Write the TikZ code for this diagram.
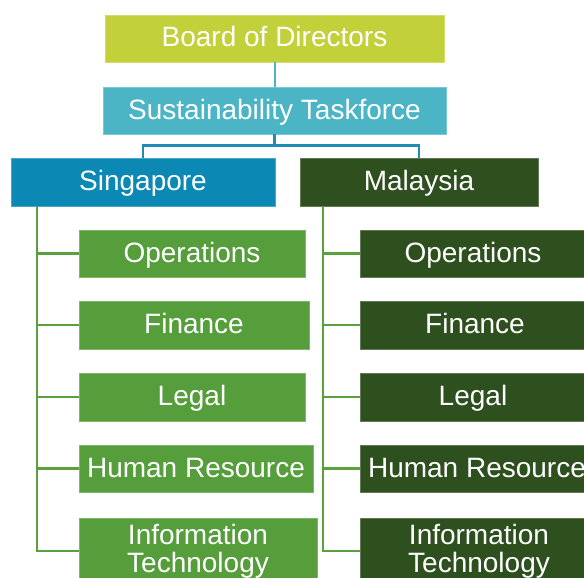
\documentclass[tikz,border=0pt]{standalone}
\usepackage{fontspec}
\setmainfont{Liberation Sans}
\definecolor{board}{HTML}{C2D03A}
\definecolor{task}{HTML}{4BB5C6}
\definecolor{sing}{HTML}{0B88B3}
\definecolor{malay}{HTML}{2E4F1E}
\definecolor{leaf}{HTML}{559E3B}
\definecolor{branch}{HTML}{5AA03C}
\definecolor{bracketc}{HTML}{1E8DB5}
\begin{document}
\begin{tikzpicture}[x=1pt,y=-1pt,
  box/.style={rectangle, inner sep=0pt, fill=#1, draw=#1!75!white, line width=0.6pt,
    text=white, align=center, font=\fontsize{28}{28}\selectfont},
  oneline/.style={text height=20pt, text depth=3pt},
  tline/.style={draw=task, line width=2pt},
  bline/.style={draw=bracketc, line width=2.5pt},
  gline/.style={draw=branch, line width=2.3pt}]
\useasboundingbox (0,0) rectangle (584,578);

% top of the hierarchy
\node[box=board, oneline, minimum width=339pt, minimum height=47pt] (bod) at (274.5,38.5) {Board of Directors};
\node[box=task, oneline, minimum width=343pt, minimum height=47pt] (stf) at (274.5,110.5) {Sustainability Taskforce};
\node[box=sing, oneline, minimum width=264pt, minimum height=48pt] (sg) at (143,182) {Singapore};
\node[box=malay, oneline, minimum width=238pt, minimum height=48pt] (my) at (419,182) {Malaysia};

% Singapore departments
\node[box=leaf, oneline, minimum width=226pt, minimum height=47pt] (sops) at (192,253.5) {Operations};
\node[box=leaf, oneline, minimum width=230pt, minimum height=48pt] (sfin) at (194,325) {Finance};
\node[box=leaf, oneline, minimum width=226pt, minimum height=48pt] (sleg) at (192,397) {Legal};
\node[box=leaf, oneline, minimum width=234pt, minimum height=47pt] (shr) at (196,468.5) {Human Resource};
\node[box=leaf, minimum width=238pt, minimum height=66pt] (sit) at (198,551) {Information\\Technology};

% Malaysia departments
\node[box=malay, oneline, minimum width=226pt, minimum height=47pt] (mops) at (473,253.5) {Operations};
\node[box=malay, oneline, minimum width=230pt, minimum height=48pt] (mfin) at (475,325) {Finance};
\node[box=malay, oneline, minimum width=226pt, minimum height=48pt] (mleg) at (473,397) {Legal};
\node[box=malay, oneline, minimum width=234pt, minimum height=47pt] (mhr) at (477,468.5) {Human Resource};
\node[box=malay, minimum width=238pt, minimum height=66pt] (mit) at (479,551) {Information\\Technology};

% connectors
\draw[tline] (bod) -- (stf);
\draw[bline] (stf.south) -- ++(0,11) -| (sg.north);
\draw[bline] (stf.south) -- ++(0,11) -| (my.north);

\path (sg.south west) ++(26,0) coordinate (sgt);
\draw[gline] (sgt) |- (sit.west);
\foreach \n in {sops,sfin,sleg,shr}
  \draw[gline] (sgt |- \n.west) -- (\n.west);

\path (my.south west) ++(23,0) coordinate (myt);
\draw[gline] (myt) |- (mit.west);
\foreach \n in {mops,mfin,mleg,mhr}
  \draw[gline] (myt |- \n.west) -- (\n.west);
\end{tikzpicture}
\end{document}
